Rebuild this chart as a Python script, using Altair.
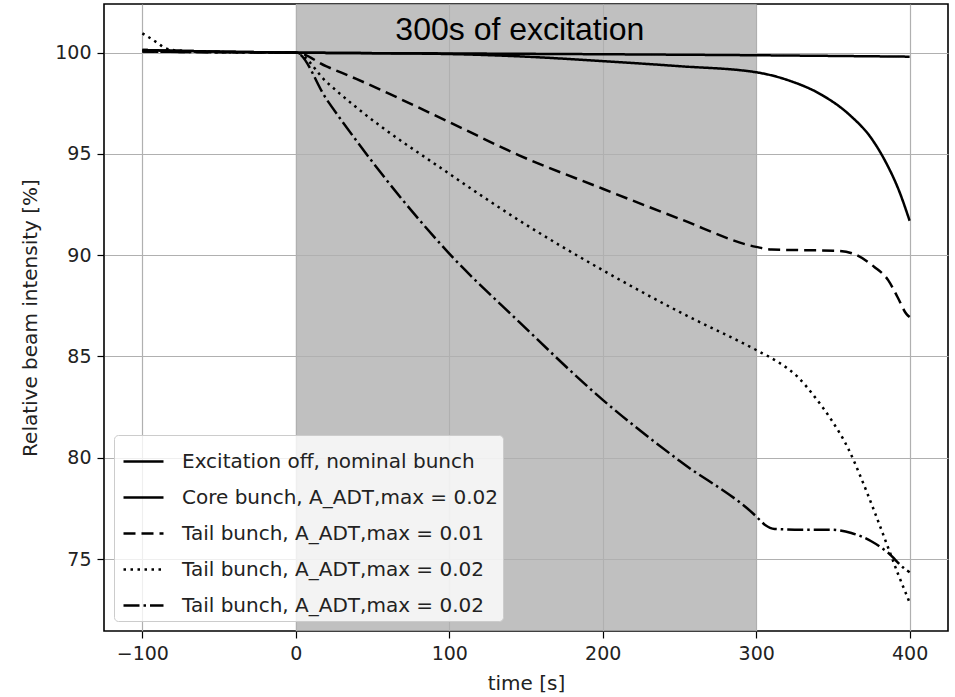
import altair as alt
import pandas as pd

# ---------------- data ----------------
series_keys = ["s1", "s2", "s3", "s4", "s5"]
series_labels = [
    "Excitation off, nominal bunch",
    "Core bunch, A_ADT,max = 0.02",
    "Tail bunch, A_ADT,max = 0.01",
    "Tail bunch, A_ADT,max = 0.02",
    "Tail bunch, A_ADT,max = 0.02",
]

nominal_t = [-100, -50, 0, 100, 200, 300, 400]
nominal_v = [100.13, 100.05, 100.0, 99.96, 99.92, 99.87, 99.80]

core_t = [-100, -50, 0, 50, 100, 150, 200, 250, 300, 321.5, 343, 360.5, 375.7, 384.4, 393, 400]
core_v = [100.13, 100.05, 100.0, 99.97, 99.93, 99.8, 99.58, 99.33, 99.03, 98.62, 97.9, 96.95, 95.7, 94.6, 93.2, 91.7]

tail01_t = [-100, -50, 0, 20, 39.4, 100, 145.5, 200, 250, 300, 310, 330, 353, 364, 377, 386, 392, 398, 400]
tail01_v = [100.05, 100.02, 100.0, 99.32, 98.7, 96.57, 94.93, 93.28, 91.8, 90.41, 90.28, 90.25, 90.22, 90.05, 89.42, 88.77, 87.95, 87.09, 86.95]

tail02dot_t = [-100, -95, -90, -86, -77, -50, 0, 20, 39.4, 100, 145.5, 200, 250, 300, 314, 327, 338, 349, 360, 368.4, 377, 386, 392, 397.6, 400]
tail02dot_v = [100.95, 100.72, 100.47, 100.26, 100.1, 100.03, 100.0, 98.55, 97.3, 94.02, 91.72, 89.26, 87.2, 85.32, 84.74, 84.0, 83.02, 81.87, 80.45, 79.0, 77.36, 75.56, 74.35, 73.3, 72.85]

tail02dd_t = [-100, -50, 0, 20, 39.4, 100, 145.5, 200, 250, 300, 305.6, 312, 330, 349, 362, 375, 386, 396, 400]
tail02dd_v = [100.05, 100.02, 100.0, 97.7, 95.66, 90.08, 86.71, 82.86, 79.85, 77.11, 76.7, 76.49, 76.45, 76.45, 76.29, 75.88, 75.31, 74.57, 74.35]

span_start = [0]
span_end = [300]
annotation_text = ["300s of excitation"]
annotation_t = [146]
annotation_v = [100.64]

x_ticks = [-100, 0, 100, 200, 300, 400]
y_ticks = [75, 80, 85, 90, 95, 100]

# ---------------- tables ----------------
all_t = [nominal_t, core_t, tail01_t, tail02dot_t, tail02dd_t]
all_v = [nominal_v, core_v, tail01_v, tail02dot_v, tail02dd_v]
frames = []
for i, (k, ts, vs) in enumerate(zip(series_keys, all_t, all_v)):
    frames.append(pd.DataFrame({"series": k, "order": i, "t": ts, "v": vs}))
lines_df = pd.concat(frames, ignore_index=True)
span_df = pd.DataFrame({"start": span_start, "end": span_end})
text_df = pd.DataFrame({"label": annotation_text, "t": annotation_t, "v": annotation_v})

x_scale = alt.Scale(domain=[-125, 425], nice=False, zero=False)
y_scale = alt.Scale(domain=[71.45, 102.4], nice=False, zero=False)

x_axis = alt.Axis(title="time [s]", values=x_ticks, format="d")
y_axis = alt.Axis(title="Relative beam intensity [%]", values=y_ticks, format="d", titlePadding=14)

label_expr = " : ".join(
    f"datum.value == '{k}' ? '{lab}'" for k, lab in zip(series_keys, series_labels)
) + " : ''"

span = alt.Chart(span_df).mark_rect(color="#b0b0b0", opacity=0.8).encode(
    x=alt.X("start:Q", scale=x_scale, axis=x_axis),
    x2="end:Q",
)

lines = alt.Chart(lines_df).mark_line(
    color="black", strokeWidth=2.5, interpolate="monotone"
).encode(
    x=alt.X("t:Q", scale=x_scale, axis=x_axis),
    y=alt.Y("v:Q", scale=y_scale, axis=y_axis),
    strokeDash=alt.StrokeDash(
        "series:N",
        scale=alt.Scale(
            domain=series_keys,
            range=[[1, 0], [1, 0], [12, 6], [2.5, 4.5], [16, 4, 2.5, 4]],
        ),
        legend=alt.Legend(
            title=None,
            orient="bottom-left",
            offset=10,
            labelExpr=label_expr,
            labelLimit=0,
            symbolType="stroke",
            symbolSize=1600,
            symbolStrokeWidth=2.5,
            symbolStrokeColor="black",
            symbolOffset=3,
            labelOffset=17,
            labelFont="DejaVu Sans",
            labelFontSize=20,
            labelColor="#222222",
            rowPadding=4,
            padding=5,
            fillColor="rgba(255,255,255,0.8)",
            strokeColor="#cccccc",
            cornerRadius=4,
        ),
    ),
    detail="series:N",
)

text = alt.Chart(text_df).mark_text(
    font="Liberation Sans", fontSize=32, align="center", baseline="alphabetic", color="black"
).encode(
    x=alt.X("t:Q", scale=x_scale, axis=x_axis),
    y=alt.Y("v:Q", scale=y_scale, axis=y_axis),
    text="label:N",
)

chart = alt.layer(span, lines, text).properties(
    width=844,
    height=627,
    autosize=alt.AutoSizeParams(type="none"),
    padding={"left": 104, "top": 4, "right": 7, "bottom": 66},
).configure_view(
    stroke="black", strokeWidth=1.6
).configure_axis(
    domain=False,
    grid=True,
    gridColor="#b0b0b0",
    gridWidth=1.2,
    ticks=True,
    tickColor="black",
    tickSize=7,
    tickWidth=1.2,
    labelFont="DejaVu Sans",
    labelFontSize=19,
    labelColor="#222222",
    labelPadding=6,
    titleFont="DejaVu Sans",
    titleFontSize=20,
    titleFontWeight="normal",
    titleColor="#222222",
    titlePadding=10,
)

chart.save("out.html", embed_options={"renderer": "svg", "actions": False})
